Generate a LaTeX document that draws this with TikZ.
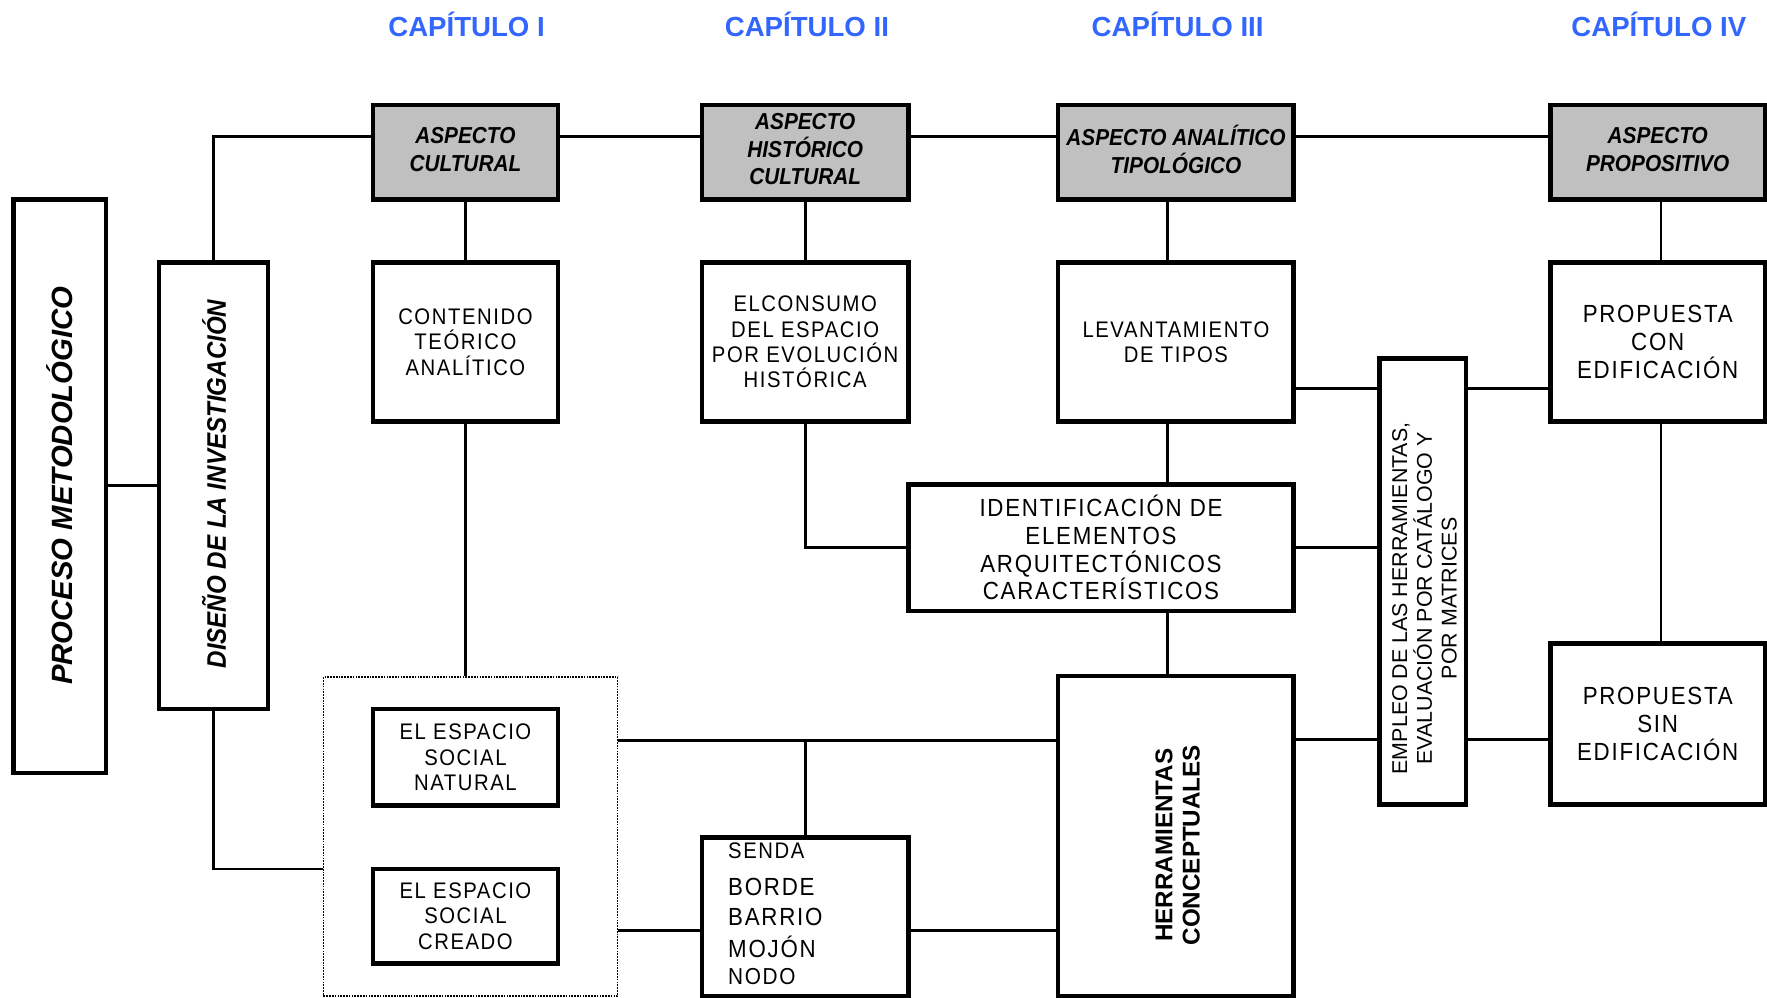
\documentclass[tikz,border=0pt]{standalone}
\usepackage{fontspec}
\setmainfont{Liberation Sans}
\newfontfamily\wfont{Liberation Sans}[FakeStretch=0.9,LetterSpace=7]
\newfontfamily\gfont{Liberation Sans}[FakeStretch=0.9]
\definecolor{capblue}{RGB}{51,102,255}
\definecolor{boxgray}{RGB}{192,192,192}
\tikzset{
  box/.style={draw, line width=4pt, inner sep=0pt, align=center},
  sz/.style n args={2}{minimum width=#1, minimum height=#2},
  gbox/.style={box, fill=boxgray, text depth=5pt, font=\gfont\bfseries\itshape\fontsize{20.5}{24.5}\selectfont},
  wbox/.style={box, font=\wfont\fontsize{20}{22.5}\selectfont},
  bigw/.style={box, font=\wfont\fontsize{22}{24.5}\selectfont},
  conn/.style={line width=2.4pt},
  chead/.style={text=capblue, inner sep=0pt, font=\bfseries\fontsize{24.5}{28}\selectfont},
  lst/.style={anchor=west, inner sep=0pt},
}
\begin{document}
\begin{tikzpicture}[x=1pt,y=-1pt]
\useasboundingbox (0,0) rectangle (1568,885.6);

% headers
\node[chead] (c1) at (414,22) {CAPÍTULO I};
\node[chead] (c2) at (716,22) {CAPÍTULO II};
\node[chead] (c3) at (1045,22) {CAPÍTULO III};
\node[chead] (c4) at (1472,22) {CAPÍTULO IV};

% left column
\node[box, sz={82}{509}] (proc) at (53,431.5) {};
\node[rotate=90, inner sep=0pt, font=\bfseries\itshape\fontsize{26}{30}\selectfont] (proct) at (53,431) {PROCESO METODOLÓGICO};
\node[box, sz={97}{396}] (dis) at (189.5,431) {};
\node[rotate=90, inner sep=0pt, font=\gfont\bfseries\itshape\fontsize{23.8}{28}\selectfont] (dist) at (190,429.5) {DISEÑO DE LA INVESTIGACIÓN};

% grey headers
\node[gbox, sz={164}{84}] (gC) at (413,135) {ASPECTO\\CULTURAL};
\node[gbox, sz={183}{84}] (gH) at (714.5,135) {ASPECTO\\HISTÓRICO\\CULTURAL};
\node[gbox, sz={209}{84}] (gA) at (1043.5,135) {ASPECTO ANALÍTICO\\TIPOLÓGICO};
\node[gbox, sz={190}{84}] (gP) at (1471,135) {ASPECTO\\PROPOSITIVO};

% second row
\node[wbox, sz={164}{141}] (wC) at (413,303.5) {CONTENIDO\\TEÓRICO\\ANALÍTICO};
\node[wbox, sz={183}{141}] (wH) at (714.5,303.5) {ELCONSUMO\\DEL ESPACIO\\POR EVOLUCIÓN\\HISTÓRICA};
\node[wbox, sz={209}{141}] (wA) at (1043.5,303.5) {LEVANTAMIENTO\\DE TIPOS};
\node[bigw, sz={190}{141}] (wP) at (1471,303.5) {PROPUESTA\\CON\\EDIFICACIÓN};

% middle
\node[bigw, sz={342}{112}] (id) at (977,486) {IDENTIFICACIÓN DE\\ELEMENTOS\\ARQUITECTÓNICOS\\CARACTERÍSTICOS};
\node[box, sz={77}{396}] (emp) at (1262.5,516) {};
\node[rotate=90, align=center, inner sep=0pt, font=\fontsize{19}{22}\selectfont] (empt) at (1264,531) {EMPLEO DE LAS HERRAMIENTAS,\\EVALUACIÓN POR CATÁLOGO Y\\POR MATRICES};
\node[bigw, sz={190}{143}] (ps) at (1471,642.5) {PROPUESTA\\SIN\\EDIFICACIÓN};
\node[box, sz={209}{284}] (her) at (1043.5,742) {};
\node[rotate=90, align=center, inner sep=0pt, font=\bfseries\fontsize{21.5}{24}\selectfont] (hert) at (1045,750) {HERRAMIENTAS\\CONCEPTUALES};

% bottom left
\node[draw, densely dotted, line width=1.5pt, sz={261}{283}] (dot) at (417.5,742.5) {};
\node[wbox, sz={164}{86}] (nat) at (413,672) {EL ESPACIO\\SOCIAL\\NATURAL};
\node[wbox, sz={164}{84}] (cre) at (413,813) {EL ESPACIO\\SOCIAL\\CREADO};
\node[box, sz={183}{141}] (sen) at (714.5,813.5) {};
\node[lst, font=\wfont\fontsize{20}{22}\selectfont] (s1) at (646,755) {SENDA};
\node[lst, font=\wfont\fontsize{22}{24}\selectfont] (s2) at (646,787) {BORDE};
\node[lst, font=\wfont\fontsize{22}{24}\selectfont] (s3) at (646,814) {BARRIO};
\node[lst, font=\wfont\fontsize{22}{24}\selectfont] (s4) at (646,840) {MOJÓN};
\node[lst, font=\wfont\fontsize{20.5}{22}\selectfont] (s5) at (646,867) {NODO};

% connectors
\coordinate (tl) at (0,121);
\coordinate (va) at (1036,0);
\coordinate (vp) at (1474,0);
\coordinate (h1) at (0,345);
\coordinate (h2) at (0,656);
\coordinate (h3) at (0,771);
\coordinate (h4) at (0,657);
\coordinate (h5) at (0,826);

\draw[conn] (dis.west -| proc.east) -- (dis.west);
\draw[conn] (dis.north) |- (gC.west |- tl);
\draw[conn] (gC.east |- tl) -- (gH.west |- tl);
\draw[conn] (gH.east |- tl) -- (gA.west |- tl);
\draw[conn] (gA.east |- tl) -- (gP.west |- tl);
\draw[conn] (gC) -- (wC);
\draw[conn] (gH) -- (wH);
\draw[conn] (gA.south -| va) -- (wA.north -| va);
\draw[conn] (wA.south -| va) -- (id.north -| va);
\draw[conn] (id.south -| va) -- (her.north -| va);
\draw[conn] (gP.south -| vp) -- (wP.north -| vp);
\draw[conn] (wP.south -| vp) -- (ps.north -| vp);
\draw[conn] (wH.south) |- (id.west);
\draw[conn] (wA.east |- h1) -- (emp.west |- h1);
\draw[conn] (emp.east |- h1) -- (wP.west |- h1);
\draw[conn] (id.east) -- (id.east -| emp.west);
\draw[conn] (her.east |- h2) -- (emp.west |- h2);
\draw[conn] (emp.east |- h2) -- (ps.west |- h2);
\draw[conn] (wC.south) -- (wC.south |- dot.north);
\draw[conn] (dis.south) |- (dot.west |- h3);
\draw[conn] (dot.east |- h4) -- (her.west |- h4);
\draw[conn] (sen.north) -- (sen.north |- h4);
\draw[conn] (dot.east |- h5) -- (sen.west |- h5);
\draw[conn] (sen.east |- h5) -- (her.west |- h5);
\end{tikzpicture}
\end{document}
